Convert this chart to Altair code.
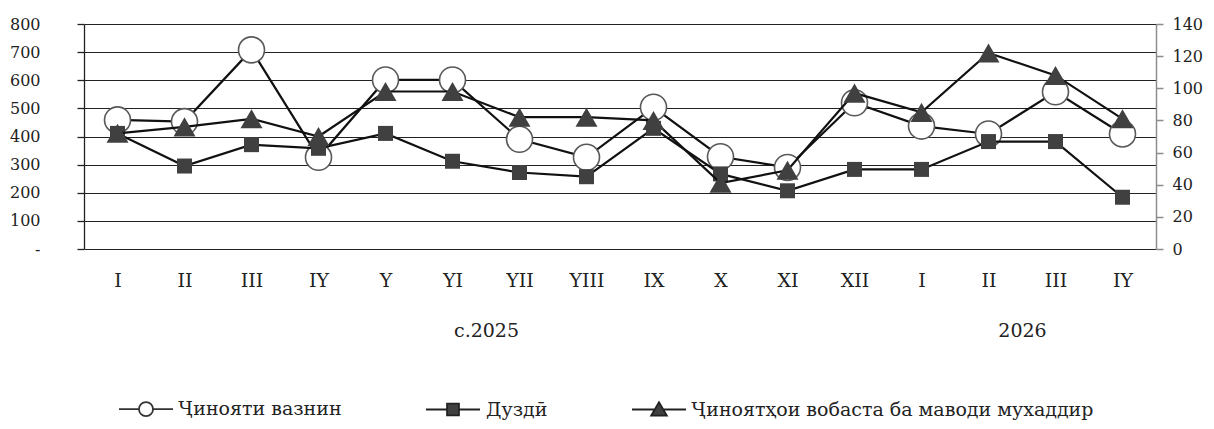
import json
import altair as alt
import pandas as pd

# ---- data ----
months = ["I", "II", "III", "IY", "Y", "YI", "YII", "YIII", "IX", "X", "XI", "XII",
          "I", "II", "III", "IY"]
years = ["с.2025"] * 12 + ["2026"] * 4
serious = [459, 453, 708, 326, 601, 601, 390, 326, 504, 328, 290, 520, 437, 409, 559, 409]
theft = [411, 295, 371, 358, 411, 312, 272, 257, 429, 267, 207, 283, 283, 382, 382, 184]
drugs = [72, 76, 81, 70, 98, 98, 82, 82, 80, 41, 49, 97, 85, 122, 108, 81]
series_names = ["Ҷинояти вазнин", "Дуздӣ", "Ҷиноятҳои вобаста ба маводи мухаддир"]

df = pd.DataFrame({
    "idx": list(range(len(months))),
    "month": months,
    "year": years,
    "serious": serious,
    "theft": theft,
    "drugs": drugs,
})

# year group centres (in index units)
year_labels = []
year_pos = []
for y in dict.fromkeys(years):
    ids = [i for i, v in enumerate(years) if v == y]
    year_labels.append(y)
    year_pos.append((ids[0] + ids[-1]) / 2)

FONT = "DejaVu Serif"
INK = "#222222"
n = len(months)

xscale = alt.Scale(domain=[-0.5, n - 0.5], nice=False, zero=False)
month_expr = json.dumps(months, ensure_ascii=False) + "[datum.value]"
year_expr = " : ".join(
    f"datum.value == {p} ? {json.dumps(l, ensure_ascii=False)}" for p, l in zip(year_pos, year_labels)
) + " : ''"

month_axis = alt.Axis(values=list(range(n)), labelExpr=month_expr, grid=False, ticks=False,
                      domain=False, labelFont=FONT, labelFontSize=19, labelColor=INK,
                      labelPadding=22, title=None, labelAngle=0, labelOverlap=False,
                      orient="bottom")
year_axis = alt.Axis(values=year_pos, labelExpr=year_expr, grid=False, ticks=False,
                     domain=False, labelFont=FONT, labelFontSize=19, labelColor=INK,
                     labelPadding=72, title=None, labelAngle=0, labelOverlap=False,
                     orient="bottom")

left_scale = alt.Scale(domain=[0, 800], nice=False)
right_scale = alt.Scale(domain=[0, 140], nice=False)

left_axis = alt.Axis(values=list(range(0, 801, 100)),
                     labelExpr="datum.value == 0 ? '-' : datum.label",
                     grid=True, gridColor=INK, gridWidth=1.2, labelOverlap=False,
                     domainColor=INK, domainWidth=1.3, tickColor=INK, tickWidth=1.3, tickSize=7,
                     labelPadding=37, labelFont=FONT, labelFontSize=16, labelColor=INK, title=None)
right_axis = alt.Axis(values=list(range(0, 141, 20)), orient="right", grid=False,
                      labelOverlap=False,
                      domainColor="#8c8c8c", domainWidth=1.5, tickColor="#8c8c8c", tickWidth=1.5,
                      tickSize=7, labelPadding=9, labelFont=FONT, labelFontSize=16,
                      labelColor=INK, title=None)

base = alt.Chart(df)


def xl():
    return alt.X("idx:Q", scale=xscale, axis=month_axis)


def xr():
    return alt.X("idx:Q", scale=xscale, axis=year_axis)


serious_line = base.mark_line(color="#111111", strokeWidth=2.2).encode(
    x=xl(), y=alt.Y("serious:Q", scale=left_scale, axis=left_axis),
)
serious_pts = base.mark_point(shape="circle", size=676, filled=True, fill="white",
                              stroke="#595959", strokeWidth=1.6, opacity=1).encode(
    x=xl(), y=alt.Y("serious:Q", scale=left_scale, axis=left_axis),
)
theft_line = base.mark_line(color="#111111", strokeWidth=2.2).encode(
    x=xl(), y=alt.Y("theft:Q", scale=left_scale, axis=left_axis),
)
theft_pts = base.mark_point(shape="square", size=225, filled=True, fill="#404040",
                            opacity=1, strokeWidth=0).encode(
    x=xl(), y=alt.Y("theft:Q", scale=left_scale, axis=left_axis),
)

# legend-only layer (no marks drawn; legend built from the explicit scale domain)
legend_df = pd.DataFrame({"series": series_names})
paths = [
    "M-1,0H-0.26M0.26,0H1M-0.26,0A0.26,0.26,0,1,1,0.26,0A0.26,0.26,0,1,1,-0.26,0Z",
    "M-1,0H-0.22M0.22,0H1M-0.22,-0.22H0.22V0.22H-0.22Z",
    "M-1,0H-0.15M0.15,0H1M0,-0.27L0.29,0.23L-0.29,0.23Z",
]
legend_layer = alt.Chart(legend_df).transform_filter("false").mark_point(
    filled=True, opacity=1, strokeWidth=1.8).encode(
    shape=alt.Shape("series:N", scale=alt.Scale(domain=series_names, range=paths),
                    legend=alt.Legend(title=None, orient="none", direction="horizontal",
                                      legendX=34, legendY=357, symbolSize=2916,
                                      labelFont=FONT, labelFontSize=19, labelColor=INK,
                                      labelOffset=5, columnPadding=80, labelLimit=800,
                                      symbolStrokeWidth=1.8)),
    fill=alt.Fill("series:N", scale=alt.Scale(domain=series_names,
                                               range=["white", "#404040", "#404040"])),
    stroke=alt.Stroke("series:N", scale=alt.Scale(domain=series_names,
                                                   range=["#333333", "#222222", "#222222"])),
)

left = alt.layer(serious_line, serious_pts, theft_line, theft_pts, legend_layer)

drugs_line = base.mark_line(color="#111111", strokeWidth=2.2).encode(
    x=xr(), y=alt.Y("drugs:Q", scale=right_scale, axis=right_axis),
)
drugs_pts = base.mark_point(shape="triangle-up", size=484, filled=True, fill="#404040",
                            opacity=1, strokeWidth=0).encode(
    x=xr(), y=alt.Y("drugs:Q", scale=right_scale, axis=right_axis),
)
right = alt.layer(drugs_line, drugs_pts)

chart = alt.layer(left, right).resolve_scale(y="independent").resolve_axis(
    x="independent", y="independent"
).properties(
    width=1072, height=225,
    autosize=alt.AutoSizeParams(type="none"),
    padding={"left": 76, "top": 16, "right": 50, "bottom": 172},
).configure_view(stroke=None).configure(background="white")

chart.save("out.html", embed_options={"renderer": "svg", "actions": False})
